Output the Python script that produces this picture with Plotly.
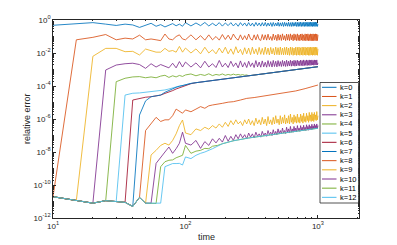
import plotly.graph_objects as go

# ---------------- data (log10 of relative error) ----------------
t_early = [10, 15, 20, 25, 30, 35, 40, 45, 50, 55, 60, 65, 70, 75, 80, 85, 90, 95]
t_late = list(range(100, 1001, 10))

baseline = [-10.71, -10.95, -11.1, -10.95, -11.0, -11.05, -11.3, -10.75, -11.1, -11.1, -11.12, -11.1]

k0_early = [-0.32, -0.2, -0.16, -0.25, -0.33, -0.25, -0.3, -0.45, -0.3, -0.2, -0.38, -0.28, -0.42, -0.3, -0.22, -0.35, -0.25, -0.38]
k0_late = [-0.16, -0.36, -0.18, -0.34, -0.15, -0.36, -0.2, -0.35, -0.16, -0.37,
           -0.18, -0.34, -0.16, -0.36, -0.2, -0.38, -0.16, -0.34, -0.18, -0.37,
           -0.16, -0.36, -0.19, -0.38, -0.15, -0.35, -0.18, -0.37, -0.16, -0.36,
           -0.15, -0.38, -0.18, -0.36, -0.16, -0.39, -0.15, -0.37, -0.18, -0.36,
           -0.14, -0.38, -0.17, -0.37, -0.15, -0.39, -0.14, -0.37, -0.17, -0.38,
           -0.14, -0.38, -0.16, -0.39, -0.14, -0.38, -0.16, -0.37, -0.13, -0.39,
           -0.15, -0.39, -0.14, -0.38, -0.13, -0.39, -0.15, -0.38, -0.14, -0.39,
           -0.13, -0.38, -0.15, -0.39, -0.13, -0.38, -0.14, -0.39, -0.13, -0.38,
           -0.14, -0.39, -0.13, -0.38, -0.14, -0.39, -0.13, -0.38, -0.14, -0.39,
           -0.25]

k1_early = [-1.2, -1.05, -0.88, -1.2, -1.1, -1.15, -0.92, -1.2, -1.15, -1.2, -1.25, -0.85, -1.15, -1.2, -1.0, -0.9, -1.15]
k1_late = [-1.2, -0.9, -1.2, -0.95, -1.22, -0.9, -1.2, -1.0, -1.22, -0.88,
           -1.18, -0.92, -1.2, -0.85, -1.1, -1.22, -0.9, -1.2, -0.95, -1.2,
           -0.85, -1.15, -1.22, -0.9, -1.2, -0.88, -1.18, -1.24, -0.88, -1.2,
           -0.9, -1.22, -0.86, -1.2, -1.0, -1.24, -0.85, -1.2, -0.92, -1.25,
           -0.86, -1.22, -0.9, -1.24, -0.84, -1.2, -0.95, -1.25, -0.85, -1.22,
           -0.88, -1.25, -0.84, -1.2, -0.9, -1.26, -0.84, -1.22, -0.88, -1.25,
           -0.84, -1.24, -0.9, -1.26, -0.85, -1.22, -0.84, -1.26, -0.9, -1.24,
           -0.84, -1.26, -0.86, -1.24, -0.84, -1.26, -0.88, -1.25, -0.84, -1.26,
           -0.85, -1.25, -0.84, -1.26, -0.86, -1.24, -0.84, -1.26, -0.85, -1.25,
           -0.9]

k2_early = [-2.2, -1.72, -1.72, -1.92, -1.9, -2.12, -1.76, -1.85, -1.95, -1.95, -1.72, -1.9, -1.85, -1.95, -1.6, -1.95]
k2_late = [-1.7, -2.0, -1.75, -2.05, -1.65, -2.0, -1.8, -2.05, -1.7, -2.0,
           -1.65, -2.05, -1.75, -2.08, -1.62, -2.0, -1.78, -2.1, -1.68, -2.05,
           -1.7, -2.1, -1.65, -2.05, -1.75, -2.1, -1.66, -2.08, -1.72, -2.1,
           -1.64, -2.08, -1.7, -2.12, -1.66, -2.06, -1.72, -2.12, -1.64, -2.1,
           -1.68, -2.12, -1.64, -2.1, -1.7, -2.12, -1.66, -2.1, -1.64, -2.12,
           -1.7, -2.14, -1.64, -2.1, -1.66, -2.14, -1.7, -2.12, -1.64, -2.14,
           -1.66, -2.12, -1.64, -2.14, -1.68, -2.12, -1.64, -2.14, -1.66, -2.12,
           -1.64, -2.14, -1.68, -2.12, -1.64, -2.14, -1.66, -2.14, -1.64, -2.12,
           -1.66, -2.14, -1.64, -2.12, -1.66, -2.14, -1.64, -2.12, -1.66, -2.14,
           -1.75]

k3_early = [-3.03, -2.73, -2.65, -2.62, -2.7, -2.93, -2.65, -2.85, -2.7, -2.8, -2.9, -2.62, -2.9, -2.52, -2.85]
k3_late = [-2.55, -2.85, -2.6, -2.9, -2.5, -2.85, -2.65, -2.88, -2.45, -2.85,
           -2.62, -2.88, -2.5, -2.82, -2.6, -2.9, -2.48, -2.85, -2.58, -2.88,
           -2.5, -2.82, -2.6, -2.88, -2.46, -2.84, -2.55, -2.86, -2.48, -2.84,
           -2.56, -2.86, -2.46, -2.82, -2.52, -2.85, -2.45, -2.82, -2.5, -2.84,
           -2.46, -2.8, -2.52, -2.82, -2.45, -2.8, -2.5, -2.82, -2.44, -2.8,
           -2.5, -2.78, -2.44, -2.8, -2.48, -2.78, -2.44, -2.8, -2.46, -2.78,
           -2.44, -2.76, -2.48, -2.78, -2.43, -2.76, -2.46, -2.78, -2.42, -2.76,
           -2.46, -2.75, -2.42, -2.76, -2.45, -2.74, -2.42, -2.75, -2.44, -2.74,
           -2.42, -2.72, -2.45, -2.74, -2.42, -2.72, -2.44, -2.73, -2.42, -2.72,
           -2.6]

k4_early = [-3.74, -3.53, -3.45, -3.43, -3.5, -3.45, -3.5, -3.4, -3.35, -3.48, -3.38, -3.45, -3.36, -3.42]
k4_mid = [-3.33, -3.27, -3.38, -3.3, -3.36, -3.26, -3.37, -3.3, -3.34, -3.27,
          -3.35, -3.3, -3.34, -3.28, -3.33, -3.3, -3.34, -3.31, -3.35, -3.33]

k5_early = [-4.55, -4.44, -4.42, -4.38, -4.36, -4.34, -4.3, -4.24, -4.18, -4.1, -4.04, -4.0, -3.98]
k6_early = [-4.85, -4.75, -4.68, -4.65, -4.6, -4.55, -4.45, -4.38, -4.28, -4.18, -4.1, -4.05]
k7_early = [-5.76, -4.9, -4.65, -4.6, -4.55, -4.38, -4.26, -4.18, -4.08, -4.02, -3.96]
join_t = [100, 110]
k5_join = [-3.92, -3.85]
k6_join = [-3.98, -3.86]
k7_join = [-3.9, -3.84]
rise_t = [120, 150, 200, 300, 400, 550, 750, 1000]
rise_v = [-3.80, -3.70, -3.56, -3.38, -3.25, -3.10, -2.96, -2.83]

k8_early = [-6.7, -6.26, -5.9, -6.15, -6.05, -6.05, -5.8, -5.4, -5.55, -5.65]
k8_t = [100, 110, 120, 130, 140, 150, 160, 175, 190, 210, 230, 260, 290, 330, 380, 430, 500, 580, 680, 800, 900, 1000]
k8_v = [-5.45, -5.56, -5.4, -5.25, -5.35, -5.2, -5.15, -5.12, -5.05, -4.98, -4.95, -4.85, -4.75, -4.7, -4.62, -4.58, -4.5, -4.42, -4.3, -4.16, -4.05, -3.94]

k9_early = [-8.18, -7.9, -7.6, -7.47, -7.58, -7.3, -6.9, -6.4, -6.06]
k9_late = [-6.85, -6.95, -6.6, -6.7, -6.5, -6.62, -6.4, -6.55, -6.3, -6.5,
           -6.2, -6.45, -6.1, -6.35, -6.05, -6.3, -6.15, -6.4, -6.05, -6.3,
           -6.0, -6.35, -6.1, -6.4, -5.95, -6.3, -6.05, -6.35, -5.9, -6.3,
           -6.0, -6.4, -5.85, -6.3, -6.05, -6.35, -5.9, -6.3, -5.8, -6.25,
           -6.0, -6.35, -5.8, -6.3, -5.9, -6.25, -5.75, -6.3, -5.95, -6.25,
           -5.8, -6.3, -5.7, -6.2, -5.9, -6.3, -5.75, -6.2, -5.85, -6.25,
           -5.7, -6.2, -5.9, -6.25, -5.7, -6.15, -5.8, -6.25, -5.65, -6.15,
           -5.85, -6.2, -5.65, -6.1, -5.8, -6.2, -5.6, -6.1, -5.75, -6.15,
           -5.6, -6.1, -5.7, -6.15, -5.6, -6.05, -5.75, -6.1, -5.55, -6.05,
           -5.8]

k10_early = [-8.69, -8.3, -8.0, -7.7, -8.08, -7.8, -7.47, -6.8]
k10_late = [-7.47, -7.58, -7.3, -7.78, -7.37, -7.6, -7.2, -7.45, -7.17, -7.4,
            -7.0, -7.35, -7.05, -7.3, -6.95, -7.2, -6.9, -7.15, -6.95, -7.2,
            -6.85, -7.1, -6.9, -7.15, -6.8, -7.05, -6.9, -7.1, -6.75, -7.0,
            -6.85, -7.05, -6.7, -6.95, -6.8, -7.0, -6.65, -6.95, -6.75, -6.95,
            -6.6, -6.9, -6.7, -6.9, -6.55, -6.85, -6.7, -6.88, -6.5, -6.82,
            -6.6, -6.85, -6.45, -6.8, -6.6, -6.8, -6.45, -6.75, -6.55, -6.78,
            -6.4, -6.72, -6.55, -6.75, -6.4, -6.7, -6.5, -6.72, -6.38, -6.68,
            -6.5, -6.7, -6.35, -6.65, -6.45, -6.68, -6.35, -6.62, -6.45, -6.65,
            -6.32, -6.62, -6.42, -6.6, -6.3, -6.6, -6.4, -6.58, -6.3, -6.56,
            -6.4]

k11_early = [-8.89, -8.59, -8.5, -8.48, -8.35, -8.28, -8.2]
k11_t = [100, 110, 120, 130, 140, 150, 160, 175, 190, 210]
k11_v = [-7.6, -8.08, -7.95, -7.9, -7.78, -7.8, -7.65, -7.6, -7.5, -7.4]
k12_early = [-8.89, -8.8, -8.7, -8.7, -8.69, -8.79]
k12_t = [100, 110, 120, 130, 140, 160, 190, 215]
k12_v = [-8.3, -8.4, -8.2, -8.08, -8.0, -7.8, -7.5, -7.38]
low_t = [230, 300, 400, 520, 700, 1000]
low_v = [-7.32, -7.15, -7.0, -6.87, -6.72, -6.56]

names = ["k=0", "k=1", "k=2", "k=3", "k=4", "k=5", "k=6", "k=7", "k=8", "k=9", "k=10", "k=11", "k=12"]
colors = ["#0072BD", "#D95319", "#EDB120", "#7E2F8E", "#77AC30", "#4DBEEE", "#A2142F"]

x_tick_exp = [1, 2, 3]
y_tick_exp = [-12, -10, -8, -6, -4, -2, 0]

# ---------------- assemble series ----------------
own = [
    (t_early + t_late, k0_early + k0_late),
    (t_early[1:] + t_late, k1_early + k1_late),
    (t_early[2:] + t_late, k2_early + k2_late),
    (t_early[3:] + t_late, k3_early + k3_late),
    (t_early[4:] + t_late[:20] + rise_t[3:], k4_early + k4_mid + rise_v[3:]),
    (t_early[5:] + join_t + rise_t, k5_early + k5_join + rise_v),
    (t_early[6:] + join_t + rise_t, k6_early + k6_join + rise_v),
    (t_early[7:] + join_t + rise_t, k7_early + k7_join + rise_v),
    (t_early[8:] + k8_t, k8_early + k8_v),
    (t_early[9:] + t_late, k9_early + k9_late),
    (t_early[10:] + t_late, k10_early + k10_late),
    (t_early[11:] + k11_t + low_t, k11_early + k11_v + low_v),
    (t_early[12:] + k12_t + low_t, k12_early + k12_v + low_v),
]

fig = go.Figure()
for k, (tt, vv) in enumerate(own):
    xs = t_early[:k] + tt
    ys = baseline[:k] + vv
    fig.add_trace(go.Scatter(
        x=xs, y=[10 ** v for v in ys], mode="lines", name=names[k],
        line=dict(color=colors[k % 7], width=0.85), showlegend=False, hoverinfo="skip"))

axis_col = "#262626"
font_fam = "Liberation Sans, Arial, Helvetica, sans-serif"


def pow_label(e):
    return "10<sup>%d</sup>" % e


x_minor = [20, 30, 40, 50, 60, 70, 80, 90, 200, 300, 400, 500, 600, 700, 800, 900, 2000]
y_minor = []
for e in range(-12, 0):
    for m in range(1, 10):
        if m == 1 and e % 2 == 0:
            continue
        y_minor.append(m * 10.0 ** e)

# the page body adds an 8 px offset; the figure is sized to fit the window
OFF = 8
W, H = 397 - OFF, 245 - OFF
PL, PR, PT, PB = 53 - OFF, 359 - OFF, 20 - OFF, 218 - OFF   # plot area in figure px

fig.update_layout(
    width=W, height=H,
    margin=dict(l=PL, r=W - PR, t=PT, b=H - PB, autoexpand=False),
    paper_bgcolor="white", plot_bgcolor="white",
    font=dict(family=font_fam, size=8, color=axis_col),
    xaxis=dict(type="log", range=[1, 3.31], automargin=False,
               tickmode="array", tickvals=[10.0 ** e for e in x_tick_exp],
               ticktext=[pow_label(e) for e in x_tick_exp],
               ticks="inside", ticklen=3, tickwidth=0.6, tickcolor=axis_col,
               showline=True, linecolor=axis_col, linewidth=0.8, mirror="allticks",
               showgrid=False, zeroline=False,
               tickfont=dict(size=8, color=axis_col, family=font_fam),
               minor=dict(tickmode="array", tickvals=x_minor, ticks="inside", ticklen=1.5,
                          tickwidth=0.5, tickcolor=axis_col, showgrid=False)),
    yaxis=dict(type="log", range=[-12, 0], automargin=False,
               tickmode="array", tickvals=[10.0 ** e for e in y_tick_exp],
               ticktext=[pow_label(e) for e in y_tick_exp],
               ticks="inside", ticklen=3, tickwidth=0.6, tickcolor=axis_col,
               showline=True, linecolor=axis_col, linewidth=0.8, mirror="allticks",
               showgrid=False, zeroline=False,
               tickfont=dict(size=8, color=axis_col, family=font_fam),
               minor=dict(tickmode="array", tickvals=y_minor, ticks="inside", ticklen=1.5,
                          tickwidth=0.5, tickcolor=axis_col, showgrid=False)),
)


# conversion from reference window pixels to paper coordinates
def px_x(p):
    return (p - 53) / 306.0


def px_y(p):
    return (218 - p) / 198.0


# axis titles
fig.add_annotation(text="time", xref="paper", yref="paper", x=px_x(206), y=px_y(237),
                   xanchor="center", yanchor="middle", showarrow=False,
                   font=dict(size=9, color=axis_col, family=font_fam))
fig.add_annotation(text="relative error", xref="paper", yref="paper", x=px_x(27), y=px_y(119),
                   xanchor="center", yanchor="middle", showarrow=False, textangle=-90,
                   font=dict(size=9, color=axis_col, family=font_fam))

# legend box (drawn manually to match the compact legend)
fig.add_shape(type="rect", xref="paper", yref="paper",
              x0=px_x(320), x1=px_x(358.5), y0=px_y(203), y1=px_y(82.5),
              line=dict(color=axis_col, width=0.8), fillcolor="white", layer="above")
for k, nm in enumerate(names):
    yy = px_y(87.3 + 9.17 * k)
    fig.add_shape(type="line", xref="paper", yref="paper",
                  x0=px_x(322), x1=px_x(336.5), y0=yy, y1=yy,
                  line=dict(color=colors[k % 7], width=1), layer="above")
    fig.add_annotation(text=nm, xref="paper", yref="paper", x=px_x(337.5), y=yy,
                       xanchor="left", yanchor="middle", showarrow=False,
                       font=dict(size=7.5, color="#000000", family=font_fam))

fig.write_html("out.html")
